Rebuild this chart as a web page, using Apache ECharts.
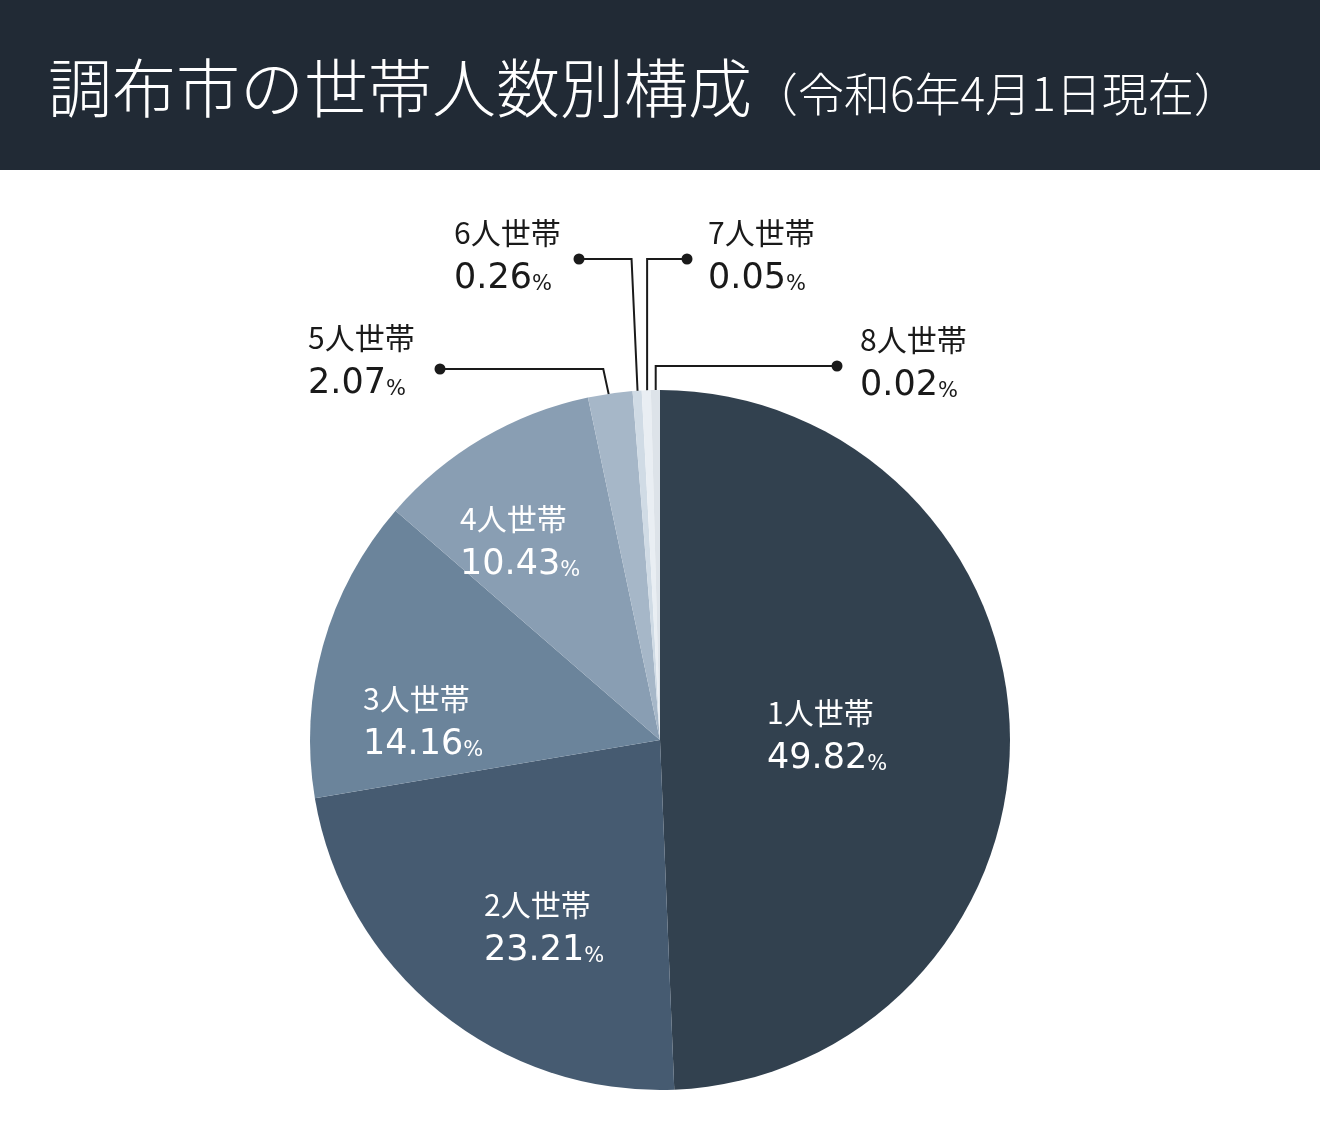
<!DOCTYPE html>
<html>
<head>
<meta charset="utf-8">
<script src="https://cdn.jsdelivr.net/npm/echarts@6/dist/echarts.min.js"></script>
<style>
html, body { margin: 0; padding: 0; background: #fff; }
#chart-main { width: 1320px; height: 1134px; }
</style>
</head>
<body>
<div id="chart-main"></div>
<script type="text/javascript">
// 世帯人数別の割合（％）
var categories = ['1人世帯', '2人世帯', '3人世帯', '4人世帯', '5人世帯', '6人世帯', '7人世帯', '8人世帯'];
var shares = [49.82, 23.21, 14.16, 10.43, 2.07, 0.26, 0.05, 0.02];
var colors = ['#32414f', '#465b71', '#6b849b', '#899eb3', '#a6b7c8', '#d0dbe5', '#e9eef3', '#dde3e9'];

// ラベル位置（左端x, 中心y）
var labelPos = [[767, 736], [484, 928], [363, 722], [460, 542], [308, 361], [454, 256], [708, 256], [860, 363]];
// 引き出し線：折れ点の横ずれ、水平部分の高さ、黒丸のx
var leaderBend = [0, 0, 0, 0, -10, -7, 0, 0];
var leaderY = [0, 0, 0, 0, 369, 259, 259, 366];
var leaderDotX = [0, 0, 0, 0, 440, 579, 687, 837];

var INK = '#1a1a1a';
var CJK = '"Noto Sans CJK JP", "Noto Sans", sans-serif';
var NUM = '"DejaVu Sans", sans-serif';

var myChart = echarts.init(document.getElementById('chart-main'));

var dots = [];
for (var k = 4; k < categories.length; k++) {
	dots.push({
		type: 'circle',
		shape: { cx: leaderDotX[k], cy: leaderY[k], r: 5.5 },
		style: { fill: INK },
		z: 10
	});
}

var option = {
	animation: false,
	backgroundColor: '#fff',
	title: {
		text: '{a|調布市の世帯人数別構成}{b|（令和6年4月1日現在）}',
		left: 48,
		top: 53,
		padding: 0,
		textStyle: {
			fontWeight: 300,
			rich: {
				a: { fontSize: 64, color: '#fff', fontFamily: CJK, fontWeight: 300, lineHeight: 70 },
				b: { fontSize: 46, color: '#fff', fontFamily: CJK, fontWeight: 300, lineHeight: 56, height: 59, verticalAlign: 'bottom' }
			}
		}
	},
	graphic: [{
		type: 'rect',
		shape: { x: 0, y: 0, width: 1320, height: 170 },
		style: { fill: '#212a35' },
		z: -10
	}].concat(dots),
	series: [{
		name: '世帯人数',
		type: 'pie',
		center: ['50%', 740],
		radius: 350,
		startAngle: 90,
		clockwise: true,
		minAngle: 1.5,
		avoidLabelOverlap: false,
		silent: true,
		itemStyle: { borderWidth: 0 },
		label: {
			show: true,
			formatter: function (p) {
				return '{n|' + p.name + '}\n{v|' + p.value.toFixed(2) + '}{p|%}';
			},
			rich: {
				n: { fontFamily: CJK, fontSize: 30, lineHeight: 46 },
				v: { fontFamily: NUM, fontSize: 35, lineHeight: 46 },
				p: { fontFamily: NUM, fontSize: 21, lineHeight: 46, height: 34, verticalAlign: 'bottom' }
			}
		},
		labelLine: {
			show: true,
			length: 15,
			length2: 15,
			lineStyle: { color: INK, width: 2 }
		},
		labelLayout: function (p) {
			var i = p.dataIndex;
			var out = { x: labelPos[i][0], y: labelPos[i][1], align: 'left', verticalAlign: 'middle' };
			if (i >= 4 && p.labelLinePoints) {
				var a = p.labelLinePoints[0], b = p.labelLinePoints[1];
				var dx = b[0] - a[0], dy = b[1] - a[1];
				var len = Math.sqrt(dx * dx + dy * dy) || 1;
				var sx = a[0] - dx / len * 22, sy = a[1] - dy / len * 22;
				out.labelLinePoints = [[sx, sy], [sx + leaderBend[i], leaderY[i]], [leaderDotX[i], leaderY[i]]];
			}
			return out;
		},
		data: categories.map(function (c, i) {
			return {
				name: c,
				value: shares[i],
				itemStyle: { color: colors[i] },
				label: { position: i < 4 ? 'inside' : 'outside', color: i < 4 ? '#fff' : INK },
				labelLine: { show: i >= 4 }
			};
		})
	}]
};

myChart.setOption(option);
</script>
</body>
</html>
